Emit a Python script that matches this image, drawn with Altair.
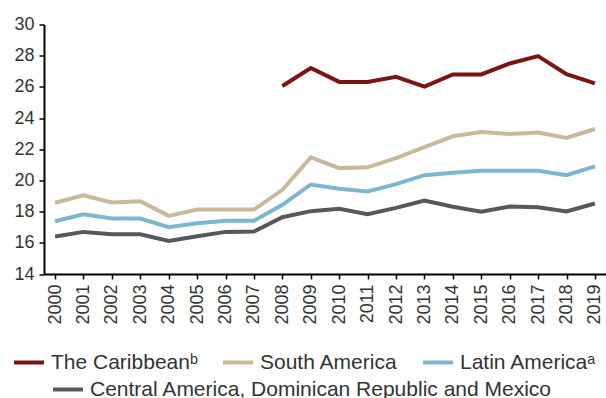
import altair as alt
import pandas as pd

# Years on the horizontal axis
years = [str(y) for y in range(2000, 2020)]

# Series values (percentages)
central = [16.40, 16.70, 16.55, 16.55, 16.12, 16.42, 16.70, 16.72, 17.64, 18.03,
           18.18, 17.83, 18.24, 18.71, 18.31, 17.99, 18.33, 18.28, 18.01, 18.52]
latin = [17.38, 17.83, 17.56, 17.56, 17.00, 17.25, 17.41, 17.41, 18.44, 19.74,
         19.47, 19.29, 19.76, 20.34, 20.49, 20.62, 20.62, 20.62, 20.34, 20.90]
south = [18.57, 19.04, 18.59, 18.67, 17.73, 18.13, 18.13, 18.13, 19.40, 21.48,
         20.79, 20.84, 21.43, 22.14, 22.83, 23.11, 22.98, 23.07, 22.72, 23.30]
caribbean_years = years[8:]
caribbean = [26.06, 27.21, 26.32, 26.32, 26.64, 26.02, 26.80, 26.80, 27.50, 27.97,
             26.82, 26.22]

names = ["The Caribbean\u1d47", "South America", "Latin America\u1d43"]
colors = ["#7b1416", "#c9b99c", "#7db6d0"]
central_name = "Central America, Dominican Republic and Mexico"
central_color = "#58585a"

main_df = pd.concat([
    pd.DataFrame({"year": caribbean_years, "value": caribbean, "series": names[0]}),
    pd.DataFrame({"year": years, "value": south, "series": names[1]}),
    pd.DataFrame({"year": years, "value": latin, "series": names[2]}),
])
central_df = pd.DataFrame({"year": years, "value": central, "series": central_name})

FONT = "Liberation Sans"

x_enc = alt.X(
    "year:O", sort=years,
    scale=alt.Scale(type="point", padding=0.39),
    axis=alt.Axis(title=None, labelAngle=-90, labelPadding=5),
)
y_enc = alt.Y(
    "value:Q",
    scale=alt.Scale(domain=[14, 30], nice=False, zero=False),
    axis=alt.Axis(title=None, values=list(range(14, 31, 2)), labelPadding=5),
)

legend_common = dict(
    orient="none", direction="horizontal", title=None,
    symbolType="stroke", symbolSize=900, symbolStrokeWidth=4,
    labelFontSize=21, labelFont=FONT, labelColor="#333333",
    labelOffset=5, padding=0, labelLimit=600,
)

main = alt.Chart(main_df).mark_line(strokeWidth=4).encode(
    x=x_enc, y=y_enc,
    color=alt.Color(
        "series:N",
        scale=alt.Scale(domain=names, range=colors),
        legend=alt.Legend(columns=3, columnPadding=17,
                          legendX=-32, legendY=321, **legend_common),
    ),
    detail="series:N",
)

central_line = alt.Chart(central_df).mark_line(strokeWidth=4).encode(
    x=x_enc, y=y_enc,
    color=alt.Color(
        "series:N",
        scale=alt.Scale(domain=[central_name], range=[central_color]),
        legend=alt.Legend(legendX=7, legendY=348, **legend_common),
    ),
)

chart = alt.layer(main, central_line).resolve_scale(color="independent").properties(
    width=562, height=249.5,
    autosize=alt.AutoSizeParams(type="none"),
    padding={"left": 44, "top": 24.5, "right": 0, "bottom": 124},
).configure_view(stroke=None).configure_axis(
    grid=False, domainColor="#000000", domainWidth=2,
    tickColor="#000000", tickWidth=1.5, tickSize=5,
    labelFont=FONT, labelFontSize=18, labelColor="#333333",
)

chart.save("out.html", embed_options={"renderer": "svg", "actions": False})
